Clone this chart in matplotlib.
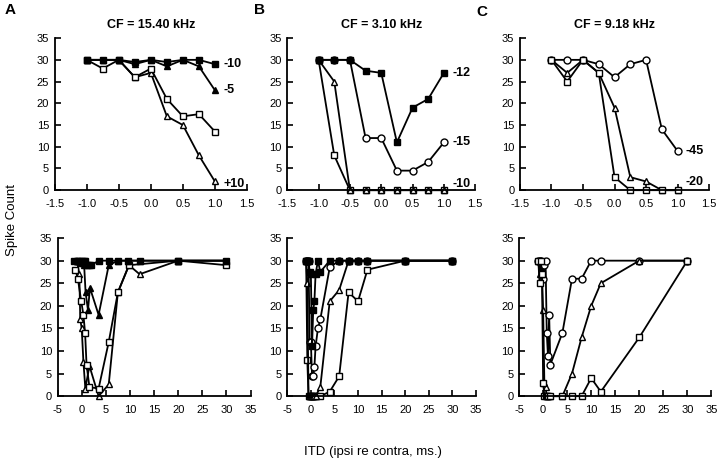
import matplotlib
matplotlib.use("Agg")
import matplotlib.pyplot as plt

plt.rcParams['font.family'] = ['Liberation Sans', 'DejaVu Sans']

# ---- panel A, CF = 15.40 kHz ----
itd_short = [-1.0, -0.75, -0.5, -0.25, 0.0, 0.25, 0.5, 0.75, 1.0]
a_top_fsq = [30, 30, 30, 29.5, 30, 29.5, 30, 30, 29]          # -10
a_top_ftri = [30, 30, 30, 29, 30, 28.5, 30, 28.5, 23]         # -5
a_top_osq = [30, 28, 30, 26, 28, 21, 17, 17.5, 13.5]
a_top_otri = [30, 30, 30, 26, 27, 17, 15, 8, 2]               # +10

a_bot_fsq_x = [-1.5, -1, -0.75, -0.5, -0.25, 0, 0.25, 0.5, 0.75, 1, 1.5, 2, 3.5, 5.7, 7.5, 9.6, 12, 20, 30]
a_bot_fsq_y = [30, 30, 30, 30, 29.5, 30, 29.5, 30, 30, 29, 29, 29, 30, 30, 30, 30, 30, 30, 30]
a_bot_ftri_x = [-1, -0.5, 0, 0.5, 0.8, 1.3, 1.7, 3.5, 5.6, 7.5, 9.6, 12, 20, 30]
a_bot_ftri_y = [30, 30, 30, 29, 23, 19, 24, 18, 29, 30, 30, 30, 30, 30]
a_bot_osq_x = [-1.3, -0.8, -0.1, 0.35, 0.7, 1.0, 1.6, 3.5, 5.6, 7.5, 9.8, 20, 30]
a_bot_osq_y = [28, 26, 21, 18, 14, 7, 2, 1.7, 12, 23, 29, 30, 29]
a_bot_otri_x = [-1, -0.5, -0.3, 0, 0.35, 0.75, 1.6, 3.5, 5.6, 7.5, 9.8, 12, 20, 30]
a_bot_otri_y = [30, 27, 17, 15, 7.6, 1.7, 6.7, 0, 2.6, 23, 29, 27, 30, 30]

# ---- panel B, CF = 3.10 kHz ----
b_top_fsq = [30, 30, 30, 27.5, 27, 11, 19, 21, 27]            # -12
b_top_ocirc = [30, 30, 30, 12, 12, 4.5, 4.5, 6.5, 11]         # -15
b_top_otri = [30, 25, 0, 0, 0, 0, 0, 0, 0]
b_top_osq = [30, 8, 0, 0, 0, 0, 0, 0, 0]                      # -10

b_bot_fsq_x = [-1, -0.75, -0.5, -0.25, 0, 0.25, 0.5, 0.75, 1, 1.5, 2, 4, 6, 8, 10, 12, 20, 30]
b_bot_fsq_y = [30, 30, 30, 27.5, 27, 11, 19, 21, 27, 30, 27.5, 30, 30, 30, 30, 30, 30, 30]
b_bot_ocirc_x = [-1, -0.75, -0.5, -0.25, 0, 0.25, 0.5, 0.75, 1, 1.5, 2, 4, 6, 8, 10, 12, 20, 30]
b_bot_ocirc_y = [30, 30, 30, 12, 12, 4.5, 4.5, 6.5, 11, 15, 17, 28.5, 30, 30, 30, 30, 30, 30]
b_bot_otri_x = [-1, -0.75, -0.5, -0.25, 0, 0.25, 0.5, 0.75, 1, 2, 4, 6, 8, 10, 12, 20, 30]
b_bot_otri_y = [30, 25, 0, 0, 0, 0, 0, 0, 0, 2, 21, 23.5, 30, 30, 30, 30, 30]
b_bot_osq_x = [-1, -0.75, -0.5, -0.25, 0, 0.25, 0.5, 0.75, 1, 2, 4, 6, 8, 10, 12, 20, 30]
b_bot_osq_y = [30, 8, 0, 0, 0, 0, 0, 0, 0, 0, 1, 4.4, 23, 21, 28, 30, 30]

# ---- panel C, CF = 9.18 kHz ----
c_top_ocirc = [30, 30, 30, 29, 26, 29, 30, 14, 9]             # -45
c_top_otri = [30, 27, 30, 27, 19, 3, 2, 0, 0]
c_top_osq = [30, 25, 30, 27, 3, 0, 0, 0, 0]                   # -20

c_bot_ocirc_x = [-1, -0.75, -0.5, -0.25, 0, 0.25, 0.5, 0.75, 1, 1.25, 1.5, 4, 6, 8, 10, 12, 20, 30]
c_bot_ocirc_y = [30, 30, 30, 29, 26, 29, 30, 14, 9, 18, 7, 14, 26, 26, 30, 30, 30, 30]
c_bot_otri_x = [-1, -0.75, -0.5, -0.25, 0, 0.25, 0.5, 0.75, 1, 1.5, 4, 6, 8, 10, 12, 20, 30]
c_bot_otri_y = [30, 27, 30, 27, 19, 3, 2, 0, 0, 0, 0, 5, 13, 20, 25, 30, 30]
c_bot_osq_x = [-1, -0.75, -0.5, -0.25, 0, 0.25, 0.5, 0.75, 1, 1.5, 4, 6, 8, 10, 12, 20, 30]
c_bot_osq_y = [30, 25, 30, 27, 3, 0, 0, 0, 0, 0, 0, 0, 0, 4, 1, 13, 30]

titles = ["CF = 15.40 kHz", "CF = 3.10 kHz", "CF = 9.18 kHz"]
letters = ["A", "B", "C"]

STYLES = {
    "fsq": dict(marker="s", mfc="black"),
    "osq": dict(marker="s", mfc="white"),
    "ftri": dict(marker="^", mfc="black"),
    "otri": dict(marker="^", mfc="white"),
    "ocirc": dict(marker="o", mfc="white"),
}


def series(ax, x, y, kind):
    ax.plot(x, y, color="black", lw=1.3, ms=5, mec="black", mew=1.0,
            clip_on=False, **STYLES[kind])


def style_axes(ax, xlim, xticks, fmt):
    ax.set_xlim(*xlim)
    ax.set_ylim(0, 35)
    ax.set_xticks(xticks)
    ax.set_xticklabels([fmt.format(t) for t in xticks])
    ax.set_yticks(range(0, 36, 5))
    ax.spines["top"].set_visible(False)
    ax.spines["right"].set_visible(False)
    for s in ("left", "bottom"):
        ax.spines[s].set_linewidth(1.3)
    ax.tick_params(direction="in", length=4, width=1.2, labelsize=8)
    ax.tick_params(axis="x", pad=6)
    ax.tick_params(axis="y", pad=4)


def label(ax, y, text):
    ax.annotate(text, (1.0, y), xytext=(6, 0), textcoords="offset points",
                ha="left", va="center", fontsize=9, fontweight="bold")


fig = plt.figure(figsize=(7.2, 4.65), dpi=100)

top_pos = [[0.076, 0.591, 0.267, 0.327], [0.399, 0.591, 0.261, 0.327], [0.722, 0.591, 0.263, 0.327]]
bot_pos = [[0.080, 0.148, 0.268, 0.340], [0.399, 0.148, 0.262, 0.340], [0.721, 0.148, 0.267, 0.340]]
tops = [fig.add_axes(p) for p in top_pos]
bots = [fig.add_axes(p) for p in bot_pos]

short_ticks = [-1.5, -1.0, -0.5, 0.0, 0.5, 1.0, 1.5]
long_ticks = list(range(-5, 36, 5))

# A
ax = tops[0]
series(ax, itd_short, a_top_otri, "otri")
series(ax, itd_short, a_top_osq, "osq")
series(ax, itd_short, a_top_ftri, "ftri")
series(ax, itd_short, a_top_fsq, "fsq")
label(ax, 29, "-10")
label(ax, 23, "-5")
label(ax, 1.5, "+10")
ax = bots[0]
series(ax, a_bot_otri_x, a_bot_otri_y, "otri")
series(ax, a_bot_osq_x, a_bot_osq_y, "osq")
series(ax, a_bot_ftri_x, a_bot_ftri_y, "ftri")
series(ax, a_bot_fsq_x, a_bot_fsq_y, "fsq")

# B
ax = tops[1]
series(ax, itd_short, b_top_osq, "osq")
series(ax, itd_short, b_top_otri, "otri")
series(ax, itd_short, b_top_ocirc, "ocirc")
series(ax, itd_short, b_top_fsq, "fsq")
label(ax, 27, "-12")
label(ax, 11, "-15")
label(ax, 1.5, "-10")
ax = bots[1]
series(ax, b_bot_osq_x, b_bot_osq_y, "osq")
series(ax, b_bot_otri_x, b_bot_otri_y, "otri")
series(ax, b_bot_ocirc_x, b_bot_ocirc_y, "ocirc")
series(ax, b_bot_fsq_x, b_bot_fsq_y, "fsq")

# C
ax = tops[2]
series(ax, itd_short, c_top_ocirc, "ocirc")
series(ax, itd_short, c_top_otri, "otri")
series(ax, itd_short, c_top_osq, "osq")
label(ax, 9, "-45")
label(ax, 1.8, "-20")
ax = bots[2]
series(ax, c_bot_ocirc_x, c_bot_ocirc_y, "ocirc")
series(ax, c_bot_otri_x, c_bot_otri_y, "otri")
series(ax, c_bot_osq_x, c_bot_osq_y, "osq")

for ax, t in zip(tops, titles):
    style_axes(ax, (-1.5, 1.5), short_ticks, "{:.1f}")
    ax.set_title(t, fontsize=9, fontweight="bold", pad=7)
for ax in bots:
    style_axes(ax, (-5, 35), long_ticks, "{:d}")

for (x, y), letter in zip([(0.014, 0.978), (0.361, 0.978), (0.669, 0.975)], letters):
    fig.text(x, y, letter, fontsize=11, fontweight="bold", ha="center", va="center")

fig.text(0.017, 0.527, "Spike Count", rotation=90, fontsize=9.5, ha="center", va="center")
fig.text(0.518, 0.028, "ITD (ipsi re contra, ms.)", fontsize=9.5, ha="center", va="center")

fig.savefig("out.png", dpi=100)
